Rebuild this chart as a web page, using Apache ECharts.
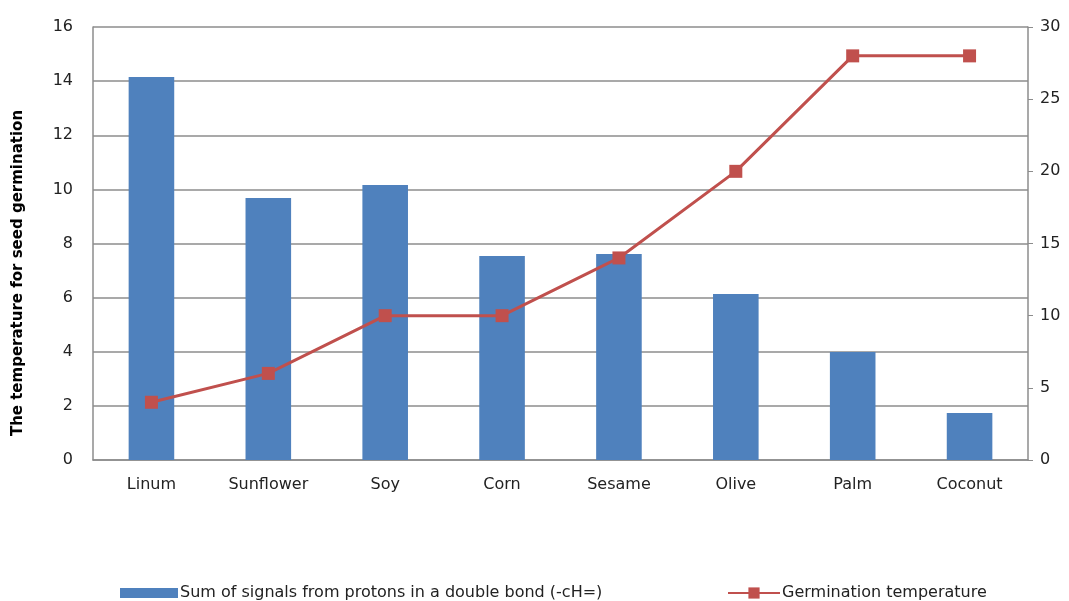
<!DOCTYPE html>
<html><head><meta charset="utf-8">
<script src="https://cdn.jsdelivr.net/npm/echarts@6/dist/echarts.min.js"></script>
<style>html,body{margin:0;padding:0;background:#fff}#c{width:1069px;height:601px}</style>
</head><body><div id="c"></div>
<script>
const categories = ['Linum','Sunflower','Soy','Corn','Sesame','Olive','Palm','Coconut'];
const signalSum = [14.15, 9.68, 10.16, 7.54, 7.61, 6.13, 3.99, 1.74];
const germTemp = [4, 6, 10, 10, 14, 20, 28, 28];
const leftTicks = {min:0, max:16, interval:2};
const rightTicks = {min:0, max:30, interval:5};
const barName = 'Sum of signals from protons in a double bond (-cH=)';
const lineName = 'Germination temperature';
const yTitle = 'The temperature for seed germination';
const font = 'DejaVu Sans, Liberation Sans, sans-serif';
const chart = echarts.init(document.getElementById('c'));
chart.setOption({
  animation:false,
  textStyle:{fontFamily:font},
  grid:{left:93,right:41,top:27,bottom:141,containLabel:false},
  legend:[
    {left:120, top:585, padding:0, itemWidth:58, itemHeight:10, itemGap:5,
     textStyle:{fontSize:16,color:'#222',fontFamily:font,padding:[0,0,0,-3]},
     data:[{name:barName,icon:'rect'}]},
    {left:727, top:585, padding:0, itemWidth:52, itemHeight:14,
     textStyle:{fontSize:16,color:'#222',fontFamily:font,padding:[0,0,0,-3]},
     data:[{name:lineName}]}
  ],
  graphic:[{type:'text', x:18, y:273, rotation:Math.PI/2,
    style:{text:yTitle, fontSize:15, fontWeight:'bold', fill:'#000', fontFamily:font,
      textAlign:'center', textVerticalAlign:'middle'}}],
  xAxis:{type:'category',data:categories,
    axisLine:{lineStyle:{color:'#8c8c8c',width:1.5}},
    axisTick:{show:false},
    axisLabel:{fontSize:16,color:'#222',margin:17}},
  yAxis:[
    {type:'value',min:leftTicks.min,max:leftTicks.max,interval:leftTicks.interval,
     axisLine:{show:true,lineStyle:{color:'#8c8c8c',width:1.5}},axisTick:{show:false},
     axisLabel:{fontSize:16,color:'#222',margin:20},
     splitLine:{lineStyle:{color:'#8c8c8c',width:1.5}}},
    {type:'value',min:rightTicks.min,max:rightTicks.max,interval:rightTicks.interval,position:'right',
     axisLine:{show:true,lineStyle:{color:'#8c8c8c',width:1.5}},
     axisTick:{show:true,length:5,lineStyle:{color:'#8c8c8c'}},
     axisLabel:{fontSize:16,color:'#222',margin:12},
     splitLine:{show:false}}
  ],
  series:[
    {name:barName,type:'bar',data:signalSum,yAxisIndex:0,barWidth:'39%',
     itemStyle:{color:'#4F81BD'}},
    {name:lineName,type:'line',data:germTemp,yAxisIndex:1,
     symbol:'rect',symbolSize:13,
     lineStyle:{color:'#C0504D',width:3},itemStyle:{color:'#C0504D'}}
  ]
});
</script></body></html>
